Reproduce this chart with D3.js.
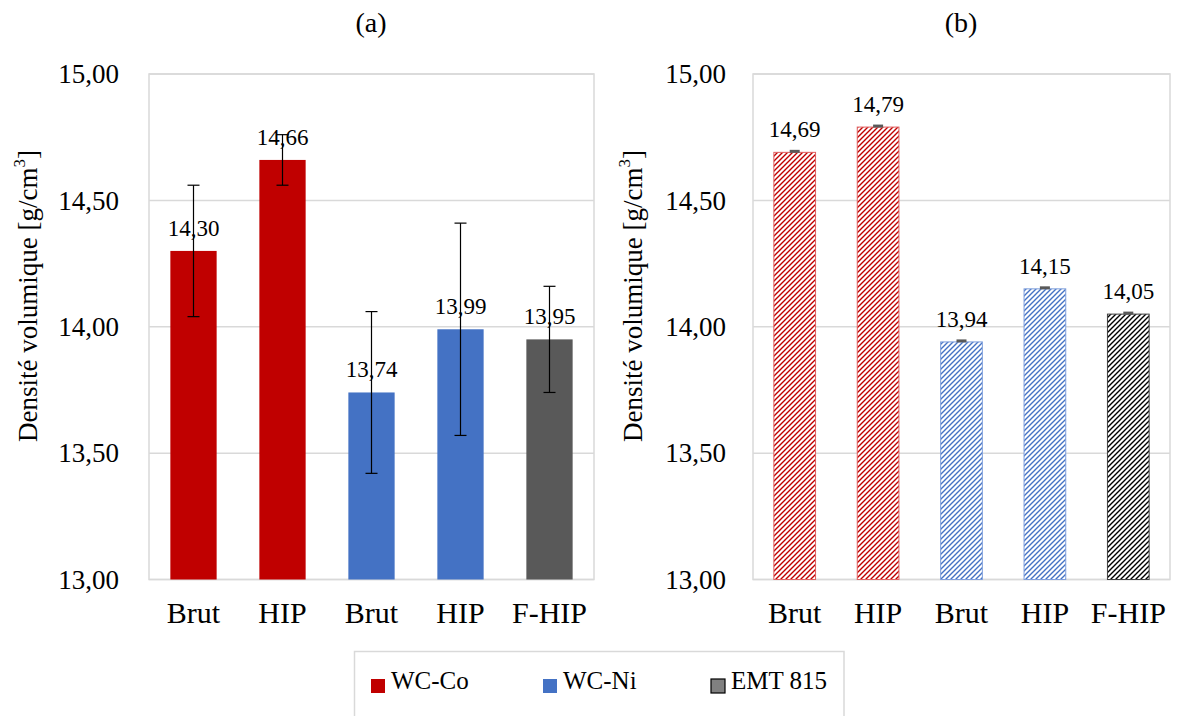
<!DOCTYPE html>
<html><head><meta charset="utf-8">
<script src="https://cdn.jsdelivr.net/npm/d3@7"></script>
<style>body{margin:0;background:#fff}svg{display:block}
svg text{font-family:"Liberation Serif","Times New Roman","DejaVu Serif",serif !important;}</style>
</head><body>
<svg id="chart" width="1182" height="716"></svg>
<script>
const categories = ["Brut","HIP","Brut","HIP","F-HIP"];
const groups = ["WC-Co","WC-Co","WC-Ni","WC-Ni","EMT 815"];
const valuesA = [14.30,14.66,13.74,13.99,13.95];
const errorsA = [0.26,0.10,0.32,0.42,0.21];
const valuesB = [14.69,14.79,13.94,14.15,14.05];
const errorsB = [0.004,0.004,0.004,0.004,0.004];
const yTicks = [13.0,13.5,14.0,14.5,15.0];
const legendNames = ["WC-Co","WC-Ni","EMT 815"];
const solidColors = {"WC-Co":"#c00000","WC-Ni":"#4472c4","EMT 815":"#595959"};
const hatchColors = {"WC-Co":"#c00000","WC-Ni":"#4472c4","EMT 815":"#000000"};
const hatchBorder = {"WC-Co":"#e06060","WC-Ni":"#7f9fdc","EMT 815":"#404040"};

const fmt = v => d3.format(".2f")(v).replace(".", ",");
const svg = d3.select("#chart");
const defs = svg.append("defs");
legendNames.forEach((g,i)=>{
  const p = defs.append("pattern").attr("id","hatch"+i)
    .attr("patternUnits","userSpaceOnUse").attr("width",5).attr("height",5);
  p.append("rect").attr("width",5).attr("height",5).attr("fill","#fff");
  p.append("path").attr("d","M-1,6 L6,-1 M-2,2 L2,-2 M3,7 L7,3")
    .attr("stroke",hatchColors[g]).attr("stroke-width",1.4);
});

function panel(opts){
  const {x0,x1,values,errors,hatched,title,titleX,axisTitleX,tickPad,pad} = opts;
  const y = d3.scaleLinear().domain([13,15]).range([579.5,74]);
  const x = d3.scaleBand().domain(d3.range(categories.length)).range([x0,x1])
    .paddingInner(pad).paddingOuter(pad/2);
  const g = svg.append("g");
  g.selectAll(".grid").data(yTicks).enter().append("line")
    .attr("x1",x0).attr("x2",x1).attr("y1",d=>y(d)).attr("y2",d=>y(d))
    .attr("stroke","#d9d9d9").attr("stroke-width",1.5);
  g.append("rect").attr("x",x0).attr("y",y(15)).attr("width",x1-x0).attr("height",y(13)-y(15))
    .attr("fill","none").attr("stroke","#d9d9d9").attr("stroke-width",1.5);
  const ya = g.append("g").attr("transform",`translate(${x0},0)`)
    .call(d3.axisLeft(y).tickValues(yTicks).tickSize(0).tickPadding(tickPad).tickFormat(fmt));
  ya.select(".domain").remove();
  ya.attr("font-family",null);
  ya.selectAll("text").attr("font-size",27).attr("fill","#000");
  const xa = g.append("g").attr("transform",`translate(0,${y(13)})`)
    .call(d3.axisBottom(x).tickSize(0).tickPadding(22).tickFormat(i=>categories[i]));
  xa.select(".domain").remove();
  xa.attr("font-family",null);
  xa.selectAll("text").attr("font-size",30).attr("fill","#000");
  g.selectAll(".bar").data(values).enter().append("rect")
    .attr("x",(d,i)=>x(i)).attr("width",x.bandwidth())
    .attr("y",d=>y(d)).attr("height",d=>y(13)-y(d))
    .attr("fill",(d,i)=> hatched ? `url(#hatch${legendNames.indexOf(groups[i])})` : solidColors[groups[i]])
    .attr("stroke",(d,i)=> hatched ? hatchBorder[groups[i]] : "none")
    .attr("stroke-width",1);
  g.selectAll(".lbl").data(values).enter().append("text")
    .attr("x",(d,i)=>x(i)+x.bandwidth()/2).attr("y",d=>y(d)-15)
    .attr("text-anchor","middle").attr("font-size",23)
    .attr("fill","#000").text(fmt);
  const ec = hatched ? "#595959" : "#000";
  const ew = hatched ? 3 : 1.2;
  const cap = hatched ? 5 : 6;
  values.forEach((v,i)=>{
    const cx = x(i)+x.bandwidth()/2;
    const e = errors[i];
    if(!hatched){
      g.append("line").attr("x1",cx).attr("x2",cx).attr("y1",y(v+e)).attr("y2",y(v-e))
        .attr("stroke",ec).attr("stroke-width",ew);
      [v+e,v-e].forEach(t=>g.append("line").attr("x1",cx-cap).attr("x2",cx+cap)
        .attr("y1",y(t)).attr("y2",y(t)).attr("stroke",ec).attr("stroke-width",ew));
    } else {
      g.append("line").attr("x1",cx-cap).attr("x2",cx+cap)
        .attr("y1",y(v+e)).attr("y2",y(v+e)).attr("stroke",ec).attr("stroke-width",ew);
    }
  });
  g.append("text").attr("x",titleX).attr("y",32).attr("text-anchor","middle")
    .attr("font-size",28).text(title);
  const at = g.append("text").attr("transform",`translate(${axisTitleX},296) rotate(-90)`)
    .attr("text-anchor","middle").attr("dominant-baseline","central")
    .attr("font-size",27).attr("fill","#000");
  at.append("tspan").text("Densité volumique [g/cm");
  at.append("tspan").attr("font-size",17).attr("dy",-9).text("3");
  at.append("tspan").attr("dy",9).text("]");
}

panel({x0:149,x1:594,values:valuesA,errors:errorsA,hatched:false,title:"(a)",titleX:371,axisTitleX:28,tickPad:30,pad:0.48});
panel({x0:753,x1:1170,values:valuesB,errors:errorsB,hatched:true,title:"(b)",titleX:961,axisTitleX:633,tickPad:27,pad:0.5});

const lg = svg.append("g");
lg.append("rect").attr("x",354.5).attr("y",651.5).attr("width",489.5).attr("height",80)
  .attr("fill","#fff").attr("stroke","#d9d9d9").attr("stroke-width",1.5);
const legendX = [371,543,711];
legendNames.forEach((n,i)=>{
  lg.append("rect").attr("x",legendX[i]).attr("y",679).attr("width",14).attr("height",14)
    .attr("fill", n==="EMT 815" ? "#808080" : solidColors[n])
    .attr("stroke", n==="EMT 815" ? "#000" : "none").attr("stroke-width",1.2);
  lg.append("text").attr("x",legendX[i]+20).attr("y",688.5)
    .attr("font-size",25).attr("fill","#000").text(n);
});
</script>
</body></html>
